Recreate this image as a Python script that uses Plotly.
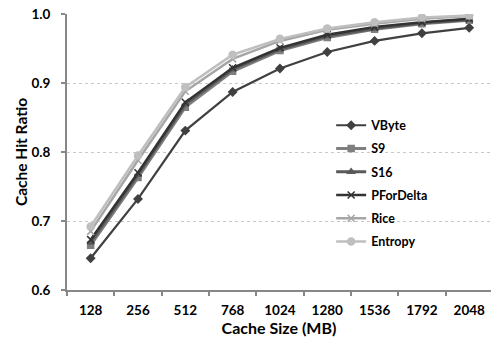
import plotly.graph_objects as go

categories = ["128", "256", "512", "768", "1024", "1280", "1536", "1792", "2048"]
vbyte = [0.646, 0.732, 0.831, 0.887, 0.921, 0.945, 0.961, 0.972, 0.980]
s9 = [0.665, 0.763, 0.865, 0.917, 0.947, 0.966, 0.978, 0.986, 0.991]
s16 = [0.669, 0.767, 0.869, 0.920, 0.949, 0.968, 0.979, 0.987, 0.992]
pfordelta = [0.673, 0.770, 0.872, 0.922, 0.951, 0.970, 0.981, 0.988, 0.993]
rice = [0.685, 0.788, 0.888, 0.935, 0.961, 0.977, 0.986, 0.993, 0.997]
entropy = [0.692, 0.795, 0.894, 0.941, 0.964, 0.979, 0.988, 0.995, 0.998]

series = [
    ("VByte", vbyte, "#404040", "diamond", 6, 2.2),
    ("S9", s9, "#7f7f7f", "square", 6, 3),
    ("S16", s16, "#5a5a5a", "triangle-up", 6, 3),
    ("PForDelta", pfordelta, "#333333", "x-thin-open", 7, 2.5),
    ("Rice", rice, "#a6a6a6", "x-thin-open", 7, 2.5),
    ("Entropy", entropy, "#bfbfbf", "circle", 7, 2.5),
]

fig = go.Figure()
for i, (name, vals, color, sym, ms, lw) in enumerate(series):
    fig.add_trace(go.Scatter(
        x=categories, y=vals, name=name, mode="lines+markers",
        line=dict(color=color, width=lw),
        marker=dict(symbol=sym, size=ms, color=color, line=dict(color=color, width=1.5)),
        legendgroup=f"g{i}",
    ))

font_family = "Lato, 'Open Sans', Arial, sans-serif"
fig.update_layout(
    width=491, height=337,
    margin=dict(l=67, r=0, t=14, b=47),
    plot_bgcolor="white", paper_bgcolor="white",
    font=dict(family=font_family, size=12, color="#000000"),
    showlegend=True,
    legend=dict(
        x=0.623, y=0.65, xanchor="left", yanchor="top",
        bgcolor="rgba(0,0,0,0)", font=dict(size=12.5, family=font_family, weight="bold"),
        tracegroupgap=4, itemwidth=30,
    ),
    xaxis=dict(
        type="category",
        range=[-0.5, 8.46], showgrid=False, tickson="boundaries",
        showline=True, linecolor="#878787", linewidth=2,
        ticks="outside", ticklen=4, tickcolor="#878787", tickwidth=1.5,
        ticklabelstandoff=7,
        tickfont=dict(size=13.5, family=font_family, weight="bold"),
        title=dict(text="<b>Cache Size (MB)</b>", font=dict(size=16, family=font_family), standoff=2),
        zeroline=False,
    ),
    yaxis=dict(
        range=[0.6, 1.0], tickvals=[0.6, 0.7, 0.8, 0.9, 1.0], ticktext=["0.6", "0.7", "0.8", "0.9", "1.0"],
        showgrid=True, gridcolor="#c8c8c8", griddash="dot", gridwidth=1,
        showline=True, linecolor="#878787", linewidth=2,
        ticks="outside", ticklen=4, tickcolor="#878787", tickwidth=1.5,
        ticklabelstandoff=8,
        tickfont=dict(size=13.5, family=font_family, weight="bold"),
        title=dict(text="<b>Cache Hit Ratio</b>", font=dict(size=15.5, family=font_family), standoff=0),
        zeroline=False,
    ),
)

fig.write_html("out.html")
